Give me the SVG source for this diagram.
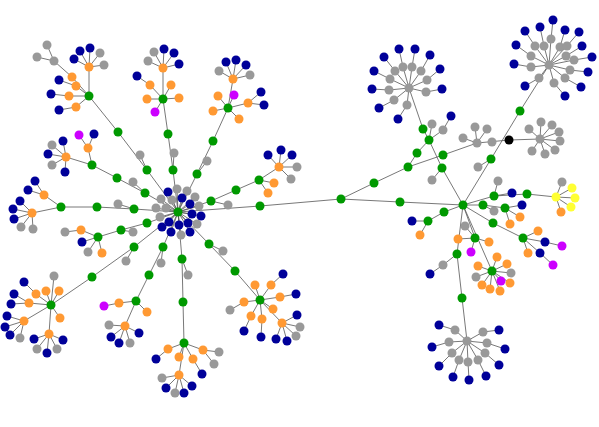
<svg xmlns="http://www.w3.org/2000/svg" width="599" height="427" viewBox="0 0 599 427">
<style>
circle{r:4.5px;stroke:none}
.g{fill:#009900}.o{fill:#ff9933}.y{fill:#999999}.b{fill:#000099}.m{fill:#cc00ff}.w{fill:#ffff33}.k{fill:#000000}
#edges path{fill:none;stroke:#555555;stroke-width:0.8}
</style>
<rect width="599" height="427" fill="#ffffff"/>
<g id="edges">
<path d="M89 96L89 67M89 67L80 51M89 67L90 48M89 67L100 53M89 67L74 59M89 67L104 65M89 96L72 77L54 61M54 61L47 45M54 61L37 57M89 96L76 86L59 80M89 96L69 96L51 94M89 96L76 107L59 110M89 96L118 132L147 170L178 212M147 170L140 155"/>
<path d="M163 99L163 68M163 68L154 52M163 68L164 49M163 68L174 53M163 68L148 61M163 68L179 64M163 99L150 85L137 76M163 99L171 85M163 99L147 99M163 99L179 98M163 99L155 112M163 99L168 134L173 170L178 212M173 170L174 153"/>
<path d="M228 108L233 79M233 79L226 62M233 79L236 60M233 79L246 65M233 79L219 71M233 79L250 75M228 108L218 96M228 108L234 95M228 108L213 111M228 108L248 103L261 92M248 103L264 105M228 108L239 119M228 108L213 141L197 174L178 212M197 174L207 161"/>
<path d="M92 165L88 148L79 135M88 148L94 134M92 165L66 157M66 157L52 145M66 157L63 141M66 157L48 154M66 157L52 165M66 157L65 172M92 165L117 178L145 193L178 212M145 193L133 182"/>
<path d="M61 207L44 195L35 181M44 195L28 190M61 207L32 213M32 213L20 201M32 213L13 209M32 213L14 219M32 213L21 227M32 213L33 229M61 207L97 207L134 209L178 212M134 209L118 204"/>
<path d="M98 237L81 230L65 232M98 237L82 242M98 237L88 252M98 237L102 253M98 237L121 230L147 223L178 212M121 230L133 232"/>
<path d="M51 305L54 276M51 305L36 294L24 282M51 305L46 291M51 305L59 291M51 305L29 303L14 294M29 303L11 304M51 305L60 318M51 305L24 321M24 321L7 316M24 321L5 327M24 321L10 335M24 321L20 338M51 305L49 334M49 334L34 339M49 334L63 340M49 334L37 349M49 334L47 353M49 334L57 349M51 305L92 277L134 247L178 212M134 247L126 261"/>
<path d="M136 301L119 303L104 306M136 301L147 312M136 301L125 326M125 326L109 325M125 326L111 337M125 326L119 343M125 326L130 343M125 326L139 333M136 301L149 275L163 247L178 212M163 247L161 263"/>
<path d="M184 343L168 349L156 359M184 343L179 357M184 343L193 359L202 374M184 343L203 350L219 352M203 350L214 364M184 343L179 375M179 375L162 378M179 375L166 388M179 375L175 393M179 375L184 393M179 375L192 386M184 343L183 302L182 259L178 212M182 259L188 275"/>
<path d="M260 300L255 285M260 300L271 285L283 274M260 300L280 297L296 294M260 300L244 302L230 310M260 300L273 309M260 300L251 316L244 331M260 300L262 319L261 337M260 300L282 323M282 323L297 315M282 323L300 327M282 323L296 336M282 323L276 339M282 323L287 341M260 300L235 271L209 244L178 212M209 244L223 251"/>
<path d="M259 180L279 167M279 167L268 155M279 167L281 150M279 167L292 155M279 167L297 167M279 167L291 179M259 180L274 183M259 180L268 193M259 180L236 190L211 201L178 212M211 201L228 205"/>
<path d="M178 212L168 192M178 212L177 189M178 212L187 191M178 212L161 199M178 212L172 200M178 212L182 198M178 212L195 197M178 212L190 204M178 212L156 208M178 212L166 208M178 212L199 206M178 212L192 214M178 212L201 216M178 212L160 217M178 212L169 222M178 212L188 223M178 212L197 224M178 212L162 227M178 212L179 225M178 212L171 232M178 212L190 232M178 212L181 235"/>
<path d="M178 212L260 206L341 199L374 183L408 167L417 153L429 140L423 129L409 88M429 140L432 124M429 140L443 130L451 116M429 140L442 168L463 205M442 168L432 180M408 167L443 155L477 143L509 140L540 139M477 143L463 138M477 143L475 127M477 143L487 129M341 199L400 202L463 205M463 205L491 159L520 111L549 65M491 159L478 167"/>
<path d="M540 139L529 129M540 139L541 122M540 139L552 125M540 139L559 132M540 139L560 141M540 139L532 151M540 139L545 154M540 139L555 150"/>
<path d="M549 65L551 39L553 20M549 65L544 46L540 27M549 65L535 46L525 31M549 65L560 47L565 30M549 65L567 46L579 32M549 65L531 56L516 45M549 65L566 56L582 46M549 65L574 60L592 57M549 65L531 67L514 64M549 65L570 70L588 72M549 65L539 78L525 86M549 65L565 78L581 87M549 65L554 83L565 96"/>
<path d="M409 88L403 67L399 49M409 88L412 67L415 49M409 88L395 71L384 57M409 88L421 71L430 55M409 88L390 79L374 71M409 88L427 80L440 69M409 88L389 90L372 89M409 88L426 92L442 89M409 88L394 100L379 108M409 88L407 105L398 119"/>
<path d="M463 205L494 196L527 194L556 197M494 196L498 181M494 196L512 193M556 197L562 182M556 197L572 188M556 197L575 198M556 197L571 207M556 197L561 212M463 205L483 205L505 208M483 205L494 211M505 208L522 205M505 208L520 217M505 208L510 224M463 205L493 223L523 238M523 238L538 231M523 238L545 242L562 246M523 238L528 253M523 238L540 253L553 265M463 205L444 212L428 221L412 221M428 221L420 235M463 205L475 238M475 238L458 239M475 238L489 242M475 238L471 252M475 238L465 226M463 205L492 271M492 271L497 257M492 271L478 266M492 271L507 264M492 271L476 277M492 271L511 273M492 271L501 281M492 271L482 285M492 271L490 289M492 271L500 291M492 271L510 283M463 205L457 254L443 265L430 274M457 254L462 298L467 341"/>
<path d="M467 341L455 330L439 325M467 341L483 332L499 330M467 341L449 342L432 347M467 341L487 343L505 349M467 341L452 353L439 366M467 341L485 353L499 365M467 341L459 360L453 377M467 341L468 362L469 380M467 341L478 360L486 376"/>
</g>
<g id="nodes">
<g id="n1"><circle class="g" cx="89" cy="96" r="4"/></g>
<g id="n2"><circle class="o" cx="89" cy="67" r="4"/></g>
<g id="n3"><circle class="b" cx="80" cy="51" r="4"/></g>
<g id="n4"><circle class="b" cx="90" cy="48" r="4"/></g>
<g id="n5"><circle class="y" cx="100" cy="53" r="4"/></g>
<g id="n6"><circle class="b" cx="74" cy="59" r="4"/></g>
<g id="n7"><circle class="y" cx="104" cy="65" r="4"/></g>
<g id="n8"><circle class="o" cx="72" cy="77" r="4"/></g>
<g id="n9"><circle class="y" cx="54" cy="61" r="4"/></g>
<g id="n10"><circle class="y" cx="47" cy="45" r="4"/></g>
<g id="n11"><circle class="y" cx="37" cy="57" r="4"/></g>
<g id="n12"><circle class="o" cx="76" cy="86" r="4"/></g>
<g id="n13"><circle class="b" cx="59" cy="80" r="4"/></g>
<g id="n14"><circle class="o" cx="69" cy="96" r="4"/></g>
<g id="n15"><circle class="b" cx="51" cy="94" r="4"/></g>
<g id="n16"><circle class="o" cx="76" cy="107" r="4"/></g>
<g id="n17"><circle class="b" cx="59" cy="110" r="4"/></g>
<g id="n18"><circle class="g" cx="118" cy="132" r="4"/></g>
<g id="n19"><circle class="g" cx="147" cy="170" r="4"/></g>
<g id="n20"><circle class="y" cx="140" cy="155" r="4"/></g>
<g id="n21"><circle class="g" cx="163" cy="99" r="4"/></g>
<g id="n22"><circle class="o" cx="163" cy="68" r="4"/></g>
<g id="n23"><circle class="y" cx="154" cy="52" r="4"/></g>
<g id="n24"><circle class="b" cx="164" cy="49" r="4"/></g>
<g id="n25"><circle class="b" cx="174" cy="53" r="4"/></g>
<g id="n26"><circle class="y" cx="148" cy="61" r="4"/></g>
<g id="n27"><circle class="b" cx="179" cy="64" r="4"/></g>
<g id="n28"><circle class="o" cx="150" cy="85" r="4"/></g>
<g id="n29"><circle class="b" cx="137" cy="76" r="4"/></g>
<g id="n30"><circle class="o" cx="171" cy="85" r="4"/></g>
<g id="n31"><circle class="o" cx="147" cy="99" r="4"/></g>
<g id="n32"><circle class="o" cx="179" cy="98" r="4"/></g>
<g id="n33"><circle class="m" cx="155" cy="112" r="4"/></g>
<g id="n34"><circle class="g" cx="168" cy="134" r="4"/></g>
<g id="n35"><circle class="g" cx="173" cy="170" r="4"/></g>
<g id="n36"><circle class="y" cx="174" cy="153" r="4"/></g>
<g id="n37"><circle class="g" cx="228" cy="108" r="4"/></g>
<g id="n38"><circle class="o" cx="233" cy="79" r="4"/></g>
<g id="n39"><circle class="b" cx="226" cy="62" r="4"/></g>
<g id="n40"><circle class="b" cx="236" cy="60" r="4"/></g>
<g id="n41"><circle class="b" cx="246" cy="65" r="4"/></g>
<g id="n42"><circle class="y" cx="219" cy="71" r="4"/></g>
<g id="n43"><circle class="y" cx="250" cy="75" r="4"/></g>
<g id="n44"><circle class="o" cx="218" cy="96" r="4"/></g>
<g id="n45"><circle class="m" cx="234" cy="95" r="4"/></g>
<g id="n46"><circle class="o" cx="213" cy="111" r="4"/></g>
<g id="n47"><circle class="o" cx="248" cy="103" r="4"/></g>
<g id="n48"><circle class="b" cx="261" cy="92" r="4"/></g>
<g id="n49"><circle class="b" cx="264" cy="105" r="4"/></g>
<g id="n50"><circle class="o" cx="239" cy="119" r="4"/></g>
<g id="n51"><circle class="g" cx="213" cy="141" r="4"/></g>
<g id="n52"><circle class="g" cx="197" cy="174" r="4"/></g>
<g id="n53"><circle class="y" cx="207" cy="161" r="4"/></g>
<g id="n54"><circle class="g" cx="92" cy="165" r="4"/></g>
<g id="n55"><circle class="o" cx="88" cy="148" r="4"/></g>
<g id="n56"><circle class="m" cx="79" cy="135" r="4"/></g>
<g id="n57"><circle class="b" cx="94" cy="134" r="4"/></g>
<g id="n58"><circle class="o" cx="66" cy="157" r="4"/></g>
<g id="n59"><circle class="y" cx="52" cy="145" r="4"/></g>
<g id="n60"><circle class="b" cx="63" cy="141" r="4"/></g>
<g id="n61"><circle class="b" cx="48" cy="154" r="4"/></g>
<g id="n62"><circle class="y" cx="52" cy="165" r="4"/></g>
<g id="n63"><circle class="b" cx="65" cy="172" r="4"/></g>
<g id="n64"><circle class="g" cx="117" cy="178" r="4"/></g>
<g id="n65"><circle class="g" cx="145" cy="193" r="4"/></g>
<g id="n66"><circle class="y" cx="133" cy="182" r="4"/></g>
<g id="n67"><circle class="g" cx="61" cy="207" r="4"/></g>
<g id="n68"><circle class="o" cx="44" cy="195" r="4"/></g>
<g id="n69"><circle class="b" cx="35" cy="181" r="4"/></g>
<g id="n70"><circle class="b" cx="28" cy="190" r="4"/></g>
<g id="n71"><circle class="o" cx="32" cy="213" r="4"/></g>
<g id="n72"><circle class="b" cx="20" cy="201" r="4"/></g>
<g id="n73"><circle class="b" cx="13" cy="209" r="4"/></g>
<g id="n74"><circle class="b" cx="14" cy="219" r="4"/></g>
<g id="n75"><circle class="y" cx="21" cy="227" r="4"/></g>
<g id="n76"><circle class="y" cx="33" cy="229" r="4"/></g>
<g id="n77"><circle class="g" cx="97" cy="207" r="4"/></g>
<g id="n78"><circle class="g" cx="134" cy="209" r="4"/></g>
<g id="n79"><circle class="y" cx="118" cy="204" r="4"/></g>
<g id="n80"><circle class="g" cx="98" cy="237" r="4"/></g>
<g id="n81"><circle class="o" cx="81" cy="230" r="4"/></g>
<g id="n82"><circle class="y" cx="65" cy="232" r="4"/></g>
<g id="n83"><circle class="b" cx="82" cy="242" r="4"/></g>
<g id="n84"><circle class="y" cx="88" cy="252" r="4"/></g>
<g id="n85"><circle class="o" cx="102" cy="253" r="4"/></g>
<g id="n86"><circle class="g" cx="121" cy="230" r="4"/></g>
<g id="n87"><circle class="g" cx="147" cy="223" r="4"/></g>
<g id="n88"><circle class="y" cx="133" cy="232" r="4"/></g>
<g id="n89"><circle class="g" cx="51" cy="305" r="4"/></g>
<g id="n90"><circle class="y" cx="54" cy="276" r="4"/></g>
<g id="n91"><circle class="o" cx="36" cy="294" r="4"/></g>
<g id="n92"><circle class="b" cx="24" cy="282" r="4"/></g>
<g id="n93"><circle class="o" cx="46" cy="291" r="4"/></g>
<g id="n94"><circle class="o" cx="59" cy="291" r="4"/></g>
<g id="n95"><circle class="o" cx="29" cy="303" r="4"/></g>
<g id="n96"><circle class="b" cx="14" cy="294" r="4"/></g>
<g id="n97"><circle class="b" cx="11" cy="304" r="4"/></g>
<g id="n98"><circle class="o" cx="60" cy="318" r="4"/></g>
<g id="n99"><circle class="o" cx="24" cy="321" r="4"/></g>
<g id="n100"><circle class="b" cx="7" cy="316" r="4"/></g>
<g id="n101"><circle class="b" cx="5" cy="327" r="4"/></g>
<g id="n102"><circle class="b" cx="10" cy="335" r="4"/></g>
<g id="n103"><circle class="y" cx="20" cy="338" r="4"/></g>
<g id="n104"><circle class="o" cx="49" cy="334" r="4"/></g>
<g id="n105"><circle class="b" cx="34" cy="339" r="4"/></g>
<g id="n106"><circle class="b" cx="63" cy="340" r="4"/></g>
<g id="n107"><circle class="y" cx="37" cy="349" r="4"/></g>
<g id="n108"><circle class="b" cx="47" cy="353" r="4"/></g>
<g id="n109"><circle class="y" cx="57" cy="349" r="4"/></g>
<g id="n110"><circle class="g" cx="92" cy="277" r="4"/></g>
<g id="n111"><circle class="g" cx="134" cy="247" r="4"/></g>
<g id="n112"><circle class="y" cx="126" cy="261" r="4"/></g>
<g id="n113"><circle class="g" cx="136" cy="301" r="4"/></g>
<g id="n114"><circle class="o" cx="119" cy="303" r="4"/></g>
<g id="n115"><circle class="m" cx="104" cy="306" r="4"/></g>
<g id="n116"><circle class="o" cx="147" cy="312" r="4"/></g>
<g id="n117"><circle class="o" cx="125" cy="326" r="4"/></g>
<g id="n118"><circle class="y" cx="109" cy="325" r="4"/></g>
<g id="n119"><circle class="b" cx="111" cy="337" r="4"/></g>
<g id="n120"><circle class="b" cx="119" cy="343" r="4"/></g>
<g id="n121"><circle class="y" cx="130" cy="343" r="4"/></g>
<g id="n122"><circle class="b" cx="139" cy="333" r="4"/></g>
<g id="n123"><circle class="g" cx="149" cy="275" r="4"/></g>
<g id="n124"><circle class="g" cx="163" cy="247" r="4"/></g>
<g id="n125"><circle class="y" cx="161" cy="263" r="4"/></g>
<g id="n126"><circle class="g" cx="184" cy="343" r="4"/></g>
<g id="n127"><circle class="o" cx="168" cy="349" r="4"/></g>
<g id="n128"><circle class="b" cx="156" cy="359" r="4"/></g>
<g id="n129"><circle class="o" cx="179" cy="357" r="4"/></g>
<g id="n130"><circle class="o" cx="193" cy="359" r="4"/></g>
<g id="n131"><circle class="b" cx="202" cy="374" r="4"/></g>
<g id="n132"><circle class="o" cx="203" cy="350" r="4"/></g>
<g id="n133"><circle class="y" cx="219" cy="352" r="4"/></g>
<g id="n134"><circle class="y" cx="214" cy="364" r="4"/></g>
<g id="n135"><circle class="o" cx="179" cy="375" r="4"/></g>
<g id="n136"><circle class="y" cx="162" cy="378" r="4"/></g>
<g id="n137"><circle class="b" cx="166" cy="388" r="4"/></g>
<g id="n138"><circle class="y" cx="175" cy="393" r="4"/></g>
<g id="n139"><circle class="b" cx="184" cy="393" r="4"/></g>
<g id="n140"><circle class="b" cx="192" cy="386" r="4"/></g>
<g id="n141"><circle class="g" cx="183" cy="302" r="4"/></g>
<g id="n142"><circle class="g" cx="182" cy="259" r="4"/></g>
<g id="n143"><circle class="y" cx="188" cy="275" r="4"/></g>
<g id="n144"><circle class="g" cx="260" cy="300" r="4"/></g>
<g id="n145"><circle class="o" cx="255" cy="285" r="4"/></g>
<g id="n146"><circle class="o" cx="271" cy="285" r="4"/></g>
<g id="n147"><circle class="b" cx="283" cy="274" r="4"/></g>
<g id="n148"><circle class="o" cx="280" cy="297" r="4"/></g>
<g id="n149"><circle class="b" cx="296" cy="294" r="4"/></g>
<g id="n150"><circle class="o" cx="244" cy="302" r="4"/></g>
<g id="n151"><circle class="y" cx="230" cy="310" r="4"/></g>
<g id="n152"><circle class="o" cx="273" cy="309" r="4"/></g>
<g id="n153"><circle class="o" cx="251" cy="316" r="4"/></g>
<g id="n154"><circle class="b" cx="244" cy="331" r="4"/></g>
<g id="n155"><circle class="o" cx="262" cy="319" r="4"/></g>
<g id="n156"><circle class="b" cx="261" cy="337" r="4"/></g>
<g id="n157"><circle class="o" cx="282" cy="323" r="4"/></g>
<g id="n158"><circle class="b" cx="297" cy="315" r="4"/></g>
<g id="n159"><circle class="y" cx="300" cy="327" r="4"/></g>
<g id="n160"><circle class="y" cx="296" cy="336" r="4"/></g>
<g id="n161"><circle class="b" cx="276" cy="339" r="4"/></g>
<g id="n162"><circle class="b" cx="287" cy="341" r="4"/></g>
<g id="n163"><circle class="g" cx="235" cy="271" r="4"/></g>
<g id="n164"><circle class="g" cx="209" cy="244" r="4"/></g>
<g id="n165"><circle class="y" cx="223" cy="251" r="4"/></g>
<g id="n166"><circle class="g" cx="259" cy="180" r="4"/></g>
<g id="n167"><circle class="o" cx="279" cy="167" r="4"/></g>
<g id="n168"><circle class="b" cx="268" cy="155" r="4"/></g>
<g id="n169"><circle class="b" cx="281" cy="150" r="4"/></g>
<g id="n170"><circle class="b" cx="292" cy="155" r="4"/></g>
<g id="n171"><circle class="y" cx="297" cy="167" r="4"/></g>
<g id="n172"><circle class="y" cx="291" cy="179" r="4"/></g>
<g id="n173"><circle class="o" cx="274" cy="183" r="4"/></g>
<g id="n174"><circle class="o" cx="268" cy="193" r="4"/></g>
<g id="n175"><circle class="g" cx="236" cy="190" r="4"/></g>
<g id="n176"><circle class="g" cx="211" cy="201" r="4"/></g>
<g id="n177"><circle class="y" cx="228" cy="205" r="4"/></g>
<g id="n178"><circle class="b" cx="168" cy="192" r="4"/></g>
<g id="n179"><circle class="y" cx="177" cy="189" r="4"/></g>
<g id="n180"><circle class="y" cx="187" cy="191" r="4"/></g>
<g id="n181"><circle class="y" cx="161" cy="199" r="4"/></g>
<g id="n182"><circle class="y" cx="172" cy="200" r="4"/></g>
<g id="n183"><circle class="b" cx="182" cy="198" r="4"/></g>
<g id="n184"><circle class="y" cx="195" cy="197" r="4"/></g>
<g id="n185"><circle class="b" cx="190" cy="204" r="4"/></g>
<g id="n186"><circle class="y" cx="156" cy="208" r="4"/></g>
<g id="n187"><circle class="y" cx="166" cy="208" r="4"/></g>
<g id="n188"><circle class="y" cx="199" cy="206" r="4"/></g>
<g id="n189"><circle class="b" cx="192" cy="214" r="4"/></g>
<g id="n190"><circle class="b" cx="201" cy="216" r="4"/></g>
<g id="n191"><circle class="y" cx="160" cy="217" r="4"/></g>
<g id="n192"><circle class="b" cx="169" cy="222" r="4"/></g>
<g id="n193"><circle class="b" cx="188" cy="223" r="4"/></g>
<g id="n194"><circle class="y" cx="197" cy="224" r="4"/></g>
<g id="n195"><circle class="b" cx="162" cy="227" r="4"/></g>
<g id="n196"><circle class="b" cx="179" cy="225" r="4"/></g>
<g id="n197"><circle class="b" cx="171" cy="232" r="4"/></g>
<g id="n198"><circle class="b" cx="190" cy="232" r="4"/></g>
<g id="n199"><circle class="y" cx="181" cy="235" r="4"/></g>
<g id="n200"><circle class="g" cx="178" cy="212" r="4"/></g>
<g id="n201"><circle class="g" cx="260" cy="206" r="4"/></g>
<g id="n202"><circle class="g" cx="341" cy="199" r="4"/></g>
<g id="n203"><circle class="g" cx="374" cy="183" r="4"/></g>
<g id="n204"><circle class="g" cx="408" cy="167" r="4"/></g>
<g id="n205"><circle class="g" cx="417" cy="153" r="4"/></g>
<g id="n206"><circle class="g" cx="429" cy="140" r="4"/></g>
<g id="n207"><circle class="g" cx="423" cy="129" r="4"/></g>
<g id="n208"><circle class="y" cx="432" cy="124" r="4"/></g>
<g id="n209"><circle class="y" cx="443" cy="130" r="4"/></g>
<g id="n210"><circle class="b" cx="451" cy="116" r="4"/></g>
<g id="n211"><circle class="g" cx="442" cy="168" r="4"/></g>
<g id="n212"><circle class="y" cx="432" cy="180" r="4"/></g>
<g id="n213"><circle class="g" cx="443" cy="155" r="4"/></g>
<g id="n214"><circle class="y" cx="477" cy="143" r="4"/></g>
<g id="n215"><circle class="y" cx="463" cy="138" r="4"/></g>
<g id="n216"><circle class="y" cx="475" cy="127" r="4"/></g>
<g id="n217"><circle class="y" cx="487" cy="129" r="4"/></g>
<g id="n218"><circle class="y" cx="492" cy="142" r="4"/></g>
<g id="n219"><circle class="k" cx="509" cy="140" r="4"/></g>
<g id="n220"><circle class="y" cx="540" cy="139" r="4"/></g>
<g id="n221"><circle class="y" cx="529" cy="129" r="4"/></g>
<g id="n222"><circle class="y" cx="541" cy="122" r="4"/></g>
<g id="n223"><circle class="y" cx="552" cy="125" r="4"/></g>
<g id="n224"><circle class="y" cx="559" cy="132" r="4"/></g>
<g id="n225"><circle class="y" cx="560" cy="141" r="4"/></g>
<g id="n226"><circle class="y" cx="532" cy="151" r="4"/></g>
<g id="n227"><circle class="y" cx="545" cy="154" r="4"/></g>
<g id="n228"><circle class="y" cx="555" cy="150" r="4"/></g>
<g id="n229"><circle class="g" cx="400" cy="202" r="4"/></g>
<g id="n230"><circle class="g" cx="463" cy="205" r="4"/></g>
<g id="n231"><circle class="g" cx="491" cy="159" r="4"/></g>
<g id="n232"><circle class="y" cx="478" cy="167" r="4"/></g>
<g id="n233"><circle class="g" cx="520" cy="111" r="4"/></g>
<g id="n234"><circle class="y" cx="549" cy="65" r="4"/></g>
<g id="n235"><circle class="y" cx="551" cy="39" r="4"/></g>
<g id="n236"><circle class="b" cx="553" cy="20" r="4"/></g>
<g id="n237"><circle class="y" cx="544" cy="46" r="4"/></g>
<g id="n238"><circle class="b" cx="540" cy="27" r="4"/></g>
<g id="n239"><circle class="y" cx="535" cy="46" r="4"/></g>
<g id="n240"><circle class="b" cx="525" cy="31" r="4"/></g>
<g id="n241"><circle class="y" cx="560" cy="47" r="4"/></g>
<g id="n242"><circle class="b" cx="565" cy="30" r="4"/></g>
<g id="n243"><circle class="y" cx="567" cy="46" r="4"/></g>
<g id="n244"><circle class="b" cx="579" cy="32" r="4"/></g>
<g id="n245"><circle class="y" cx="531" cy="56" r="4"/></g>
<g id="n246"><circle class="b" cx="516" cy="45" r="4"/></g>
<g id="n247"><circle class="y" cx="566" cy="56" r="4"/></g>
<g id="n248"><circle class="b" cx="582" cy="46" r="4"/></g>
<g id="n249"><circle class="y" cx="574" cy="60" r="4"/></g>
<g id="n250"><circle class="b" cx="592" cy="57" r="4"/></g>
<g id="n251"><circle class="y" cx="531" cy="67" r="4"/></g>
<g id="n252"><circle class="b" cx="514" cy="64" r="4"/></g>
<g id="n253"><circle class="y" cx="570" cy="70" r="4"/></g>
<g id="n254"><circle class="b" cx="588" cy="72" r="4"/></g>
<g id="n255"><circle class="y" cx="539" cy="78" r="4"/></g>
<g id="n256"><circle class="b" cx="525" cy="86" r="4"/></g>
<g id="n257"><circle class="y" cx="565" cy="78" r="4"/></g>
<g id="n258"><circle class="b" cx="581" cy="87" r="4"/></g>
<g id="n259"><circle class="y" cx="554" cy="83" r="4"/></g>
<g id="n260"><circle class="b" cx="565" cy="96" r="4"/></g>
<g id="n261"><circle class="y" cx="409" cy="88" r="4"/></g>
<g id="n262"><circle class="y" cx="403" cy="67" r="4"/></g>
<g id="n263"><circle class="b" cx="399" cy="49" r="4"/></g>
<g id="n264"><circle class="y" cx="412" cy="67" r="4"/></g>
<g id="n265"><circle class="b" cx="415" cy="49" r="4"/></g>
<g id="n266"><circle class="y" cx="395" cy="71" r="4"/></g>
<g id="n267"><circle class="b" cx="384" cy="57" r="4"/></g>
<g id="n268"><circle class="y" cx="421" cy="71" r="4"/></g>
<g id="n269"><circle class="b" cx="430" cy="55" r="4"/></g>
<g id="n270"><circle class="y" cx="390" cy="79" r="4"/></g>
<g id="n271"><circle class="b" cx="374" cy="71" r="4"/></g>
<g id="n272"><circle class="y" cx="427" cy="80" r="4"/></g>
<g id="n273"><circle class="b" cx="440" cy="69" r="4"/></g>
<g id="n274"><circle class="y" cx="389" cy="90" r="4"/></g>
<g id="n275"><circle class="b" cx="372" cy="89" r="4"/></g>
<g id="n276"><circle class="y" cx="426" cy="92" r="4"/></g>
<g id="n277"><circle class="b" cx="442" cy="89" r="4"/></g>
<g id="n278"><circle class="y" cx="394" cy="100" r="4"/></g>
<g id="n279"><circle class="b" cx="379" cy="108" r="4"/></g>
<g id="n280"><circle class="y" cx="407" cy="105" r="4"/></g>
<g id="n281"><circle class="b" cx="398" cy="119" r="4"/></g>
<g id="n282"><circle class="g" cx="494" cy="196" r="4"/></g>
<g id="n283"><circle class="y" cx="498" cy="181" r="4"/></g>
<g id="n284"><circle class="b" cx="512" cy="193" r="4"/></g>
<g id="n285"><circle class="g" cx="527" cy="194" r="4"/></g>
<g id="n286"><circle class="w" cx="556" cy="197" r="4"/></g>
<g id="n287"><circle class="y" cx="562" cy="182" r="4"/></g>
<g id="n288"><circle class="w" cx="572" cy="188" r="4"/></g>
<g id="n289"><circle class="w" cx="575" cy="198" r="4"/></g>
<g id="n290"><circle class="w" cx="571" cy="207" r="4"/></g>
<g id="n291"><circle class="o" cx="561" cy="212" r="4"/></g>
<g id="n292"><circle class="g" cx="483" cy="205" r="4"/></g>
<g id="n293"><circle class="y" cx="494" cy="211" r="4"/></g>
<g id="n294"><circle class="g" cx="505" cy="208" r="4"/></g>
<g id="n295"><circle class="b" cx="522" cy="205" r="4"/></g>
<g id="n296"><circle class="o" cx="520" cy="217" r="4"/></g>
<g id="n297"><circle class="o" cx="510" cy="224" r="4"/></g>
<g id="n298"><circle class="g" cx="493" cy="223" r="4"/></g>
<g id="n299"><circle class="g" cx="523" cy="238" r="4"/></g>
<g id="n300"><circle class="o" cx="538" cy="231" r="4"/></g>
<g id="n301"><circle class="b" cx="545" cy="242" r="4"/></g>
<g id="n302"><circle class="m" cx="562" cy="246" r="4"/></g>
<g id="n303"><circle class="o" cx="528" cy="253" r="4"/></g>
<g id="n304"><circle class="b" cx="540" cy="253" r="4"/></g>
<g id="n305"><circle class="m" cx="553" cy="265" r="4"/></g>
<g id="n306"><circle class="g" cx="444" cy="212" r="4"/></g>
<g id="n307"><circle class="g" cx="428" cy="221" r="4"/></g>
<g id="n308"><circle class="b" cx="412" cy="221" r="4"/></g>
<g id="n309"><circle class="o" cx="420" cy="235" r="4"/></g>
<g id="n310"><circle class="g" cx="475" cy="238" r="4"/></g>
<g id="n311"><circle class="y" cx="465" cy="226" r="4"/></g>
<g id="n312"><circle class="o" cx="458" cy="239" r="4"/></g>
<g id="n313"><circle class="o" cx="489" cy="242" r="4"/></g>
<g id="n314"><circle class="m" cx="471" cy="252" r="4"/></g>
<g id="n315"><circle class="g" cx="492" cy="271" r="4"/></g>
<g id="n316"><circle class="o" cx="497" cy="257" r="4"/></g>
<g id="n317"><circle class="o" cx="478" cy="266" r="4"/></g>
<g id="n318"><circle class="o" cx="507" cy="264" r="4"/></g>
<g id="n319"><circle class="y" cx="476" cy="277" r="4"/></g>
<g id="n320"><circle class="y" cx="511" cy="273" r="4"/></g>
<g id="n321"><circle class="o" cx="482" cy="285" r="4"/></g>
<g id="n322"><circle class="o" cx="490" cy="289" r="4"/></g>
<g id="n323"><circle class="o" cx="500" cy="291" r="4"/></g>
<g id="n324"><circle class="o" cx="510" cy="283" r="4"/></g>
<g id="n325"><circle class="m" cx="501" cy="281" r="4"/></g>
<g id="n326"><circle class="g" cx="457" cy="254" r="4"/></g>
<g id="n327"><circle class="y" cx="443" cy="265" r="4"/></g>
<g id="n328"><circle class="b" cx="430" cy="274" r="4"/></g>
<g id="n329"><circle class="g" cx="462" cy="298" r="4"/></g>
<g id="n330"><circle class="y" cx="467" cy="341" r="4"/></g>
<g id="n331"><circle class="y" cx="455" cy="330" r="4"/></g>
<g id="n332"><circle class="b" cx="439" cy="325" r="4"/></g>
<g id="n333"><circle class="y" cx="483" cy="332" r="4"/></g>
<g id="n334"><circle class="b" cx="499" cy="330" r="4"/></g>
<g id="n335"><circle class="y" cx="449" cy="342" r="4"/></g>
<g id="n336"><circle class="b" cx="432" cy="347" r="4"/></g>
<g id="n337"><circle class="y" cx="487" cy="343" r="4"/></g>
<g id="n338"><circle class="b" cx="505" cy="349" r="4"/></g>
<g id="n339"><circle class="y" cx="452" cy="353" r="4"/></g>
<g id="n340"><circle class="b" cx="439" cy="366" r="4"/></g>
<g id="n341"><circle class="y" cx="485" cy="353" r="4"/></g>
<g id="n342"><circle class="b" cx="499" cy="365" r="4"/></g>
<g id="n343"><circle class="y" cx="459" cy="360" r="4"/></g>
<g id="n344"><circle class="b" cx="453" cy="377" r="4"/></g>
<g id="n345"><circle class="y" cx="468" cy="362" r="4"/></g>
<g id="n346"><circle class="b" cx="469" cy="380" r="4"/></g>
<g id="n347"><circle class="y" cx="478" cy="360" r="4"/></g>
<g id="n348"><circle class="b" cx="486" cy="376" r="4"/></g>
</g>
</svg>
